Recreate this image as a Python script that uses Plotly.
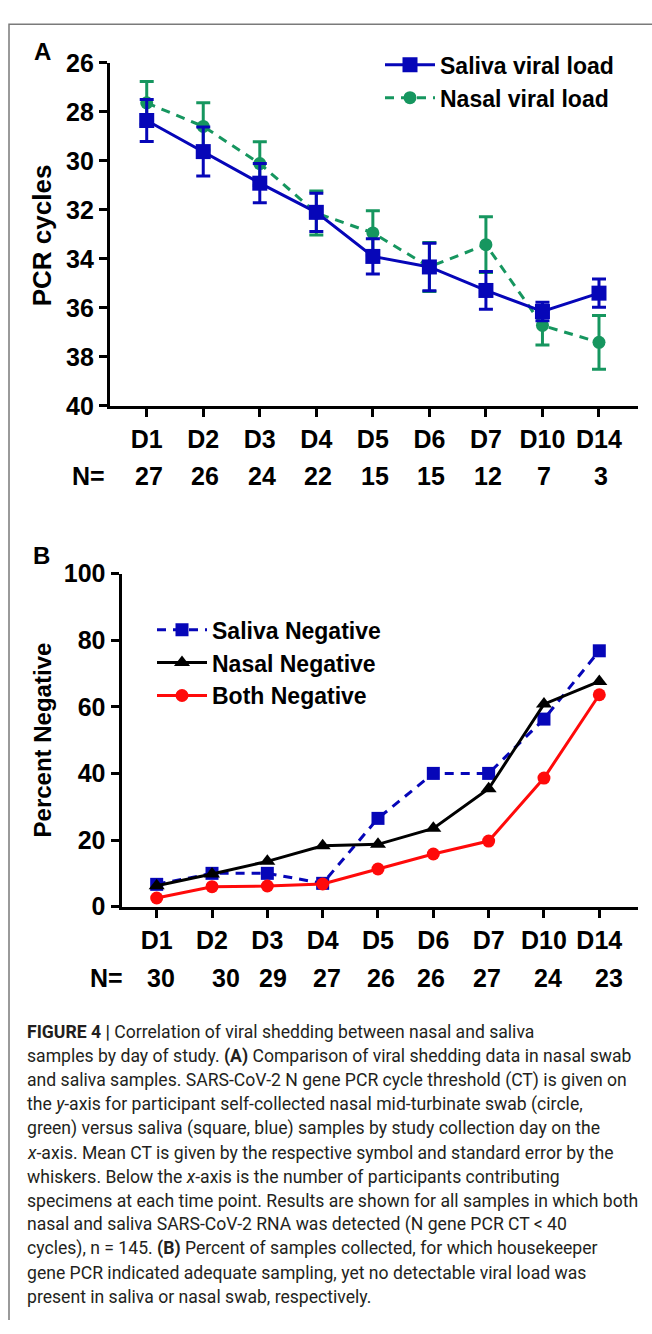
import plotly.graph_objects as go

# ---------------- data ----------------
days = ["D1", "D2", "D3", "D4", "D5", "D6", "D7", "D10", "D14"]

# Panel A: mean PCR cycle threshold (CT) and standard error
saliva_ct = [28.35, 29.62, 30.91, 32.10, 33.90, 34.33, 35.29, 36.15, 35.40]
saliva_se = [0.86, 1.00, 0.80, 0.78, 0.72, 0.97, 0.77, 0.38, 0.58]
nasal_ct = [27.63, 28.59, 30.11, 32.13, 32.94, 34.33, 33.42, 36.72, 37.41]
nasal_se = [0.87, 0.96, 0.89, 0.90, 0.90, 1.00, 1.14, 0.80, 1.10]
n_a = [27, 26, 24, 22, 15, 15, 12, 7, 3]

# Panel B: percent negative
saliva_neg = [6.7, 10.0, 10.0, 7.0, 26.5, 40.0, 40.0, 56.3, 76.8]
nasal_neg = [6.3, 9.8, 13.6, 18.3, 18.7, 23.5, 35.4, 60.8, 67.6]
both_neg = [2.6, 6.0, 6.2, 6.8, 11.3, 15.8, 19.7, 38.6, 63.6]
n_b = [30, 30, 29, 27, 26, 26, 27, 24, 23]

caption_lines = [
    "<b>FIGURE 4 |</b> Correlation of viral shedding between nasal and saliva",
    "samples by day of study. <b>(A)</b> Comparison of viral shedding data in nasal swab",
    "and saliva samples. SARS-CoV-2 N gene PCR cycle threshold (CT) is given on",
    "the <i>y</i>-axis for participant self-collected nasal mid-turbinate swab (circle,",
    "green) versus saliva (square, blue) samples by study collection day on the",
    "<i>x</i>-axis. Mean CT is given by the respective symbol and standard error by the",
    "whiskers. Below the <i>x</i>-axis is the number of participants contributing",
    "specimens at each time point. Results are shown for all samples in which both",
    "nasal and saliva SARS-CoV-2 RNA was detected (N gene PCR CT &lt; 40",
    "cycles), n = 145. <b>(B)</b> Percent of samples collected, for which housekeeper",
    "gene PCR indicated adequate sampling, yet no detectable viral load was",
    "present in saliva or nasal swab, respectively.",
]

# ---------------- layout constants (pixels) ----------------
W, H = 652, 1334
BLUE = "#0606b8"
GREEN = "#16965f"
RED = "#ff0a0a"
BLACK = "#000000"
FONT = "Liberation Sans, Arial, sans-serif"
CAP_FONT = "Roboto, Liberation Sans, sans-serif"

def px_x(x):
    return x / W

def px_y(y):
    return 1 - y / H

fig = go.Figure()

# ---------------- Panel A ----------------
fig.add_trace(go.Scatter(
    x=days, y=nasal_ct, name="Nasal viral load", mode="lines+markers",
    line=dict(color=GREEN, width=3, dash="9px,7px"),
    marker=dict(symbol="circle", size=13, color=GREEN),
    error_y=dict(type="data", array=nasal_se, color=GREEN, thickness=3, width=7),
    xaxis="x", yaxis="y", legend="legend", cliponaxis=False,
))
fig.add_trace(go.Scatter(
    x=days, y=saliva_ct, name="Saliva viral load", mode="lines+markers",
    line=dict(color=BLUE, width=3),
    marker=dict(symbol="square", size=15, color=BLUE),
    error_y=dict(type="data", array=saliva_se, color=BLUE, thickness=3, width=7),
    xaxis="x", yaxis="y", legend="legend", cliponaxis=False,
))

# ---------------- Panel B ----------------
fig.add_trace(go.Scatter(
    x=days, y=saliva_neg, name="Saliva Negative", mode="lines+markers",
    line=dict(color=BLUE, width=3, dash="9px,7px"),
    marker=dict(symbol="square", size=13, color=BLUE),
    xaxis="x2", yaxis="y2", legend="legend2", cliponaxis=False,
))
fig.add_trace(go.Scatter(
    x=days, y=nasal_neg, name="Nasal Negative", mode="lines+markers",
    line=dict(color=BLACK, width=3),
    marker=dict(symbol="triangle-up", size=14, color=BLACK),
    xaxis="x2", yaxis="y2", legend="legend2", cliponaxis=False,
))
fig.add_trace(go.Scatter(
    x=days, y=both_neg, name="Both Negative", mode="lines+markers",
    line=dict(color=RED, width=3),
    marker=dict(symbol="circle", size=13, color=RED),
    xaxis="x2", yaxis="y2", legend="legend2", cliponaxis=False,
))

axis_common = dict(
    showline=True, linewidth=3, linecolor="black", showgrid=False, zeroline=False,
    ticks="outside", ticklen=8, tickwidth=3, tickcolor="black",
    tickfont=dict(family=FONT, size=25, color="black", weight="bold"),
)

xa_l, xa_r = 109.8, 638.0
ya_t, ya_b = 50.0, 400.2
xb_l, xb_r = 121.5, 638.3
yb_t, yb_b = 571.5, 911.8

fig.update_layout(
    width=W, height=H,
    margin=dict(l=0, r=0, t=0, b=0),
    paper_bgcolor="white", plot_bgcolor="white",
    showlegend=True,
    xaxis=dict(
        **axis_common, domain=[px_x(xa_l), px_x(xa_r)], anchor="y",
        type="category", categoryorder="array", categoryarray=days,
        range=[-0.653, 8.69], ticklabelstandoff=1,
    ),
    yaxis=dict(
        **axis_common, domain=[px_y(ya_b), px_y(ya_t)], anchor="x",
        range=[40, 26], tickvals=list(range(26, 41, 2)),
    ),
    xaxis2=dict(
        **axis_common, domain=[px_x(xb_l), px_x(xb_r)], anchor="y2",
        type="category", categoryorder="array", categoryarray=days,
        range=[-0.636, 8.705], ticklabelstandoff=1,
    ),
    yaxis2=dict(
        **axis_common, domain=[px_y(yb_b), px_y(yb_t)], anchor="x2",
        range=[0, 100], tickvals=list(range(0, 101, 20)),
    ),
    legend=dict(
        x=px_x(380), y=px_y(30), xanchor="left", yanchor="top",
        bgcolor="rgba(0,0,0,0)", itemwidth=50,
        font=dict(family=FONT, size=23, color="black", weight="bold"),
        traceorder="reversed",
    ),
    legend2=dict(
        x=px_x(152), y=px_y(607), xanchor="left", yanchor="top",
        bgcolor="rgba(0,0,0,0)", itemwidth=50,
        font=dict(family=FONT, size=23, color="black", weight="bold"),
    ),
)

def ann(text, x, y, size=25, xref="paper", xanchor="center", textangle=0, xshift=0, family=FONT,
        color="black"):
    return dict(text=text, x=x, y=y, xref=xref, yref="paper", xanchor=xanchor, yanchor="middle",
                textangle=textangle, xshift=xshift, showarrow=False,
                font=dict(family=family, size=size, color=color))

annotations = []
# panel letters
annotations.append(ann("<b>A</b>", px_x(42), px_y(38), size=24))
annotations.append(ann("<b>B</b>", px_x(41), px_y(553), size=24))
# axis titles
annotations.append(ann("<b>PCR cycles</b>", px_x(42), px_y(226), size=26, textangle=-90))
annotations.append(ann("<b>Percent Negative</b>", px_x(42), px_y(742), size=24, textangle=-90))
# N rows
annotations.append(ann("<b>N=</b>", px_x(107), px_y(472), xanchor="right"))
for d, n in zip(days, n_a):
    annotations.append(ann(f"<b>{n}</b>", d, px_y(472), xref="x", xshift=2))
annotations.append(ann("<b>N=</b>", px_x(125), px_y(985), xanchor="right"))
n_b_shift = [4, 14, 6, 4, 3, -2, -2, 4, 10]
for d, n, s in zip(days, n_b, n_b_shift):
    annotations.append(ann(f"<b>{n}</b>", d, px_y(985), xref="x2", xshift=s))
# caption
for i, line in enumerate(caption_lines):
    annotations.append(ann(line, px_x(25), px_y(1040 + 24.6 * i), size=17.6, xanchor="left",
                           family=CAP_FONT, color="#231f20"))
fig.update_layout(annotations=annotations)

# frame around the figure (partially cropped in the reference)
fig.add_shape(type="path", path=f"M {px_x(9)} 0 L {px_x(9)} {px_y(10.5)} L 1 {px_y(10.5)}",
              xref="paper", yref="paper", line=dict(color="#7a7a7a", width=1.5))

fig.write_html("out.html", config={"displayModeBar": False},
               post_script="document.body.style.margin='0px';")
